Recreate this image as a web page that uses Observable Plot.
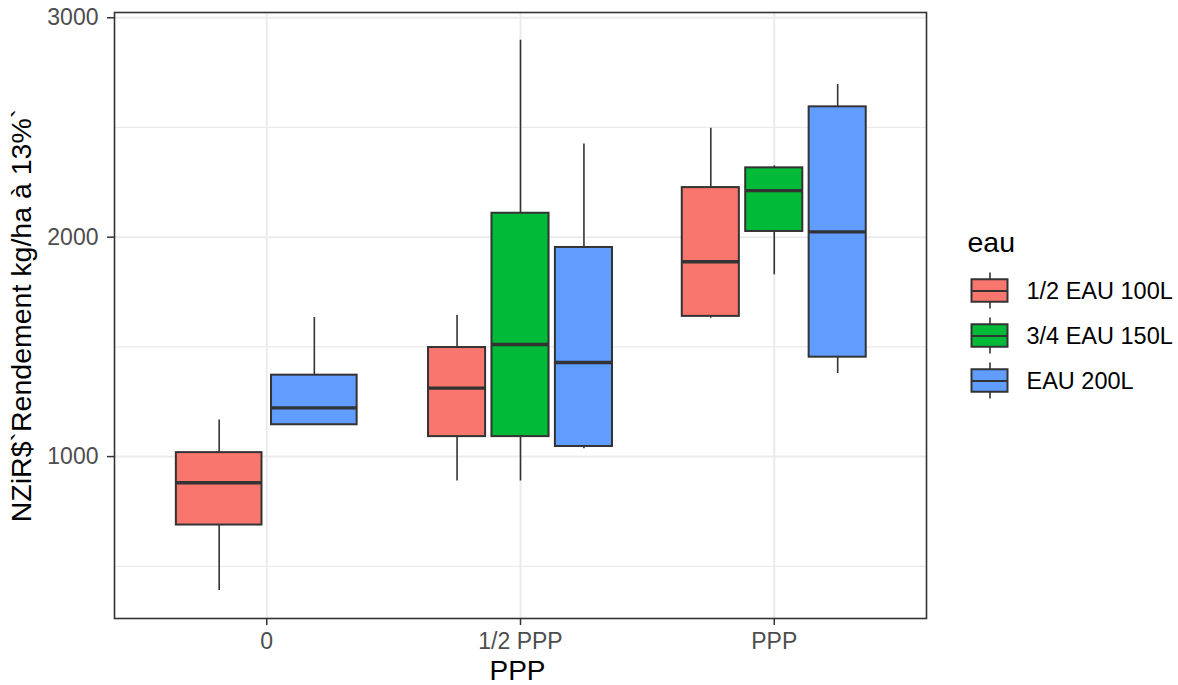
<!DOCTYPE html>
<html>
<head>
<meta charset="utf-8">
<script src="https://cdn.jsdelivr.net/npm/d3@7"></script>
<script src="https://cdn.jsdelivr.net/npm/@observablehq/plot@0.6"></script>
<style>
  html, body { margin: 0; padding: 0; background: white; }
  #wrap { position: relative; width: 1178px; height: 685px; }
  #legend { position: absolute; left: 940px; top: 220px; }
</style>
</head>
<body>
<div id="wrap"><div id="chart"></div><div id="legend"></div></div>
<script>
// ---- data ----
const pppLevels = ["0", "1/2 PPP", "PPP"];
const eauLevels = ["1/2 EAU 100L", "3/4 EAU 150L", "EAU 200L"];
const eauColors = ["#F8766D", "#00BA38", "#619CFF"];

const rowPPP = ["0", "0", "1/2 PPP", "1/2 PPP", "1/2 PPP", "PPP", "PPP", "PPP"];
const rowEau = ["1/2 EAU 100L", "EAU 200L", "1/2 EAU 100L", "3/4 EAU 150L", "EAU 200L", "1/2 EAU 100L", "3/4 EAU 150L", "EAU 200L"];
const whiskerLow  = [390, 1145,  889,  889, 1036, 1630, 1828, 1379];
const boxLow      = [688, 1145, 1091, 1091, 1046, 1639, 2026, 1453];
const medianVal   = [881, 1222, 1312, 1511, 1429, 1888, 2212, 2024];
const boxHigh     = [1018, 1371, 1497, 2109, 1953, 2226, 2316, 2594];
const whiskerHigh = [1167, 1634, 1643, 2898, 2425, 2496, 2325, 2696];

const yTicks = [1000, 2000, 3000];
const yMinor = [500, 1500, 2500];
const yTitle = "NZiR$`Rendement kg/ha à 13%`";
const xTitle = "PPP";
const legendTitle = "eau";

// ---- dodge (ggplot position_dodge2 style) ----
const rows = rowPPP.map((p, i) => {
  const peers = rowPPP.map((q, j) => q === p ? j : -1).filter(j => j >= 0);
  const n = peers.length, k = peers.indexOf(i);
  const slot = 0.75 / n;
  const c = pppLevels.indexOf(p) + (k - (n - 1) / 2) * slot;
  const half = slot * 0.9 / 2;
  return {ppp: p, eau: rowEau[i], c, x1: c - half, x2: c + half,
    ymin: whiskerLow[i], lower: boxLow[i], middle: medianVal[i], upper: boxHigh[i], ymax: whiskerHigh[i]};
});

const FONT = "'Liberation Sans', Arial, sans-serif";
const ink = "#333333";
const tickFont = 23;
const titleFont = 28;

const chart = Plot.plot({
  width: 1178, height: 685,
  marginTop: 12, marginBottom: 67, marginLeft: 114, marginRight: 252,
  style: {fontFamily: FONT, background: "white"},
  x: {type: "linear", domain: [-0.6, 2.6]},
  y: {type: "linear", domain: [262, 3024]},
  color: {domain: eauLevels, range: eauColors},
  marks: [
    Plot.ruleY(yMinor, {stroke: "#EBEBEB", strokeWidth: 1.2}),
    Plot.ruleY(yTicks, {stroke: "#EBEBEB", strokeWidth: 2}),
    Plot.ruleX(pppLevels.map((d, i) => i), {stroke: "#EBEBEB", strokeWidth: 2}),
    Plot.ruleX(rows, {x: "c", y1: "ymin", y2: "ymax", stroke: ink, strokeWidth: 1.6}),
    Plot.rect(rows, {x1: "x1", x2: "x2", y1: "lower", y2: "upper", fill: "eau", stroke: ink, strokeWidth: 2}),
    Plot.ruleY(rows, {y: "middle", x1: "x1", x2: "x2", stroke: ink, strokeWidth: 3.4}),
    Plot.frame({stroke: ink, strokeWidth: 1.6}),
    Plot.axisY(yTicks, {label: null, tickSize: 7, tickPadding: 9, fontSize: tickFont, stroke: ink, fill: "#4D4D4D", strokeWidth: 1.5, tickFormat: d => String(d)}),
    Plot.axisX(pppLevels.map((d, i) => i), {label: null, tickSize: 7, tickPadding: 7, fontSize: tickFont, stroke: ink, fill: "#4D4D4D", strokeWidth: 1.5, tickFormat: i => pppLevels[i]}),
    Plot.text([yTitle], {text: d => d, frameAnchor: "left", rotate: -90, dx: -84, textAnchor: "middle", lineAnchor: "bottom", fontSize: 28.5, fill: "black"}),
    Plot.text([xTitle], {text: d => d, frameAnchor: "bottom", dx: -3, dy: 61, textAnchor: "middle", lineAnchor: "bottom", fontSize: titleFont, fill: "black"})
  ]
});
document.getElementById("chart").appendChild(chart);

// ---- legend (boxplot keys) ----
const legendRows = eauLevels.map((e, i) => ({e, i}));
const legend = Plot.plot({
  width: 238, height: 190,
  marginLeft: 27, marginRight: 166, marginTop: 48, marginBottom: 7,
  style: {fontFamily: FONT, background: "white", overflow: "visible"},
  x: {type: "linear", domain: [0, 1], axis: null},
  y: {type: "linear", domain: [-0.5, 2.5], reverse: true, axis: null},
  color: {domain: eauLevels, range: eauColors},
  marks: [
    Plot.ruleX(legendRows, {x: 0.5, y1: d => d.i - 0.4, y2: d => d.i + 0.4, stroke: ink, strokeWidth: 1.6}),
    Plot.rect(legendRows, {x1: 0.1, x2: 0.9, y1: d => d.i - 0.25, y2: d => d.i + 0.25, fill: "e", stroke: ink, strokeWidth: 2}),
    Plot.ruleY(legendRows, {y: "i", x1: 0.1, x2: 0.9, stroke: ink, strokeWidth: 2}),
    Plot.text(legendRows, {x: 1, y: "i", text: "e", textAnchor: "start", dx: 14, fontSize: 23.5, fill: "black"}),
    Plot.text([legendTitle], {text: d => d, frameAnchor: "top-left", dy: -17, lineAnchor: "bottom", textAnchor: "start", fontSize: 28.5, fill: "black"})
  ]
});
document.getElementById("legend").appendChild(legend);
</script>
</body>
</html>
